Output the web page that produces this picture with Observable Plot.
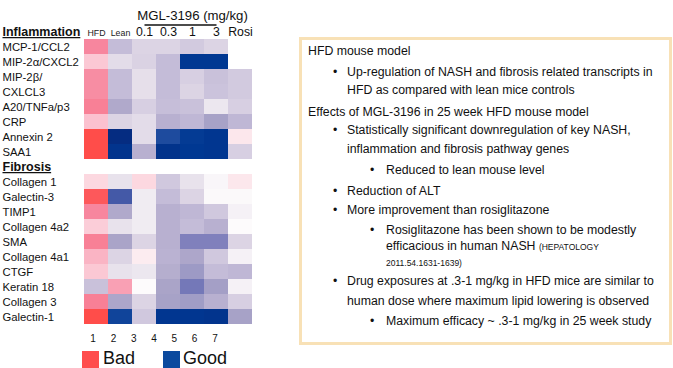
<!DOCTYPE html>
<html>
<head>
<meta charset="utf-8">
<script src="https://cdn.jsdelivr.net/npm/d3@7"></script>
<script src="https://cdn.jsdelivr.net/npm/@observablehq/plot@0.6"></script>
<style>
  html, body { margin: 0; padding: 0; background: #fff; }
  #page { position: relative; width: 673px; height: 368px; overflow: hidden; font-family: "Liberation Sans", Arial, sans-serif; color: #111; }
  #chart { position: absolute; left: 0; top: 0; }
  #nums { position: absolute; left: 83px; top: 333px; display: flex; font-size: 10px; }
  #nums span { width: 20.3px; text-align: center; }
  .leg { position: absolute; top: 351px; width: 17px; height: 17px; }
  .legt { position: absolute; top: 348px; font-size: 18px; line-height: 20px; }
  #box { position: absolute; left: 299px; top: 37px; width: 367px; height: 302px; border: 3px solid #f8e1b6; background: #fff; }
  .ln { position: absolute; font-size: 12.3px; line-height: 16px; white-space: nowrap; }
  .sm { font-size: 8.5px; }
</style>
</head>
<body>
<div id="page">
  <div id="chart"></div>
  <div id="nums"></div>
  <div class="leg" style="left:82px;background:#ff4d4d"></div>
  <div class="legt" style="left:103px">Bad</div>
  <div class="leg" style="left:163px;background:#0b4a9e"></div>
  <div class="legt" style="left:183px">Good</div>
  <div id="box">
    <div class="ln" style="top:3px;left:6px">HFD mouse model</div>
    <div class="ln" style="top:24px;left:31px">•</div>
    <div class="ln" style="top:24px;left:45px">Up-regulation of NASH and fibrosis related transcripts in</div>
    <div class="ln" style="top:42px;left:45px">HFD as compared with lean mice controls</div>
    <div class="ln" style="top:64px;left:6px">Effects of MGL-3196 in 25 week HFD mouse model</div>
    <div class="ln" style="top:82px;left:31px">•</div>
    <div class="ln" style="top:82px;left:45px">Statistically significant downregulation of key NASH,</div>
    <div class="ln" style="top:101px;left:45px">inflammation and fibrosis pathway genes</div>
    <div class="ln" style="top:122px;left:68px">•</div>
    <div class="ln" style="top:122px;left:84px">Reduced to lean mouse level</div>
    <div class="ln" style="top:143px;left:31px">•</div>
    <div class="ln" style="top:143px;left:45px">Reduction of ALT</div>
    <div class="ln" style="top:162px;left:31px">•</div>
    <div class="ln" style="top:162px;left:45px">More improvement than rosiglitazone</div>
    <div class="ln" style="top:182px;left:68px">•</div>
    <div class="ln" style="top:182px;left:84px">Rosiglitazone has been shown to be modestly</div>
    <div class="ln" style="top:198px;left:84px">efficacious in human NASH <span class="sm">(HEPATOLOGY</span></div>
    <div class="ln sm" style="top:215px;left:84px">2011.54.1631-1639)</div>
    <div class="ln" style="top:233px;left:31px">•</div>
    <div class="ln" style="top:233px;left:45px">Drug exposures at .3-1 mg/kg in HFD mice are similar to</div>
    <div class="ln" style="top:253px;left:45px">human dose where maximum lipid lowering is observed</div>
    <div class="ln" style="top:273px;left:68px">•</div>
    <div class="ln" style="top:273px;left:84px">Maximum efficacy ~ .3-1 mg/kg in 25 week study</div>
  </div>
</div>
<script>
// ---- data ----
const columns = ["HFD", "Lean", "0.1", "0.3", "1", "3", "Rosi"];
const doseColumns = ["0.1", "0.3", "1", "3", "Rosi"];
const groupColumns = ["HFD", "Lean"];
const columnNumbers = ["1", "2", "3", "4", "5", "6", "7"];
const doseTitle = "MGL-3196 (mg/kg)";

const inflammationGenes = ["MCP-1/CCL2", "MIP-2α/CXCL2", "MIP-2β/", "CXLCL3", "A20/TNFa/p3", "CRP", "Annexin 2", "SAA1"];
const inflammationValues = [
  [2.0, -2.0, -1.0, -1.0, -1.4, -1.0, null],
  [1.0, -0.7, -1.1, -2.0, -6.0, -6.0, null],
  [1.9, -2.0, -0.6, -2.0, -1.2, -1.8, -1.4],
  [1.9, -2.0, -0.6, -2.0, -1.0, -1.7, -1.4],
  [2.1, -2.8, -1.2, -1.9, -1.8, -0.4, -1.2],
  [1.1, -1.0, -0.7, -2.5, -2.2, -3.1, -2.2],
  [3.0, -6.7, -0.7, -5.4, -5.9, -6.1, 0.4],
  [3.0, -6.2, -2.5, -6.3, -6.0, -6.1, -1.2]
];

const fibrosisGenes = ["Collagen 1", "Galectin-3", "TIMP1", "Collagen 4a2", "SMA", "Collagen 4a1", "CTGF", "Keratin 18", "Collagen 3", "Galectin-1"];
const fibrosisValues = [
  [0.7, -0.5, 0.7, -1.5, -0.5, -0.1, 0.4],
  [2.8, -5.0, -0.3, -2.0, -1.0, -0.05, -0.05],
  [2.0, -2.8, -0.3, -2.5, -2.2, -1.5, -0.2],
  [0.9, -0.5, -0.3, -2.5, -2.0, -2.5, 0.0],
  [2.1, -3.0, -1.0, -2.5, -4.0, -4.0, -1.0],
  [1.3, -1.0, 0.3, -2.4, -2.9, -1.5, -0.2],
  [1.0, -0.5, -0.4, -2.6, -3.4, -2.0, -2.2],
  [-1.8, 1.6, 0.0, -3.0, -4.2, -3.2, -0.2],
  [2.1, -2.9, -1.0, -3.1, -3.3, -2.5, -1.2],
  [3.0, -5.6, -1.5, -6.1, -6.1, -6.2, -3.1]
];

const colorDomain = [-6.8, -6, -5.5, -5, -4, -3.5, -3, -2.5, -2, -1.5, -1, -0.5, 0, 0.5, 1, 2, 3];
const colorRange = ["#062a7e", "#003892", "#14479c", "#4459a7", "#8080bc", "#9a98c4", "#aaa4c8", "#b8b0d0", "#c4bcd8", "#d0c8de", "#dcd4e4", "#e8e2ec", "#fdfbfc", "#fce2e8", "#fbc8d4", "#f7869e", "#ff4d4a"];

// ---- build table ----
const rows = ["_mgl", "Inflammation", ...inflammationGenes, "Fibrosis", ...fibrosisGenes];
const cells = [];
inflammationGenes.forEach((g, i) => columns.forEach((c, j) => {
  const v = inflammationValues[i][j];
  if (v != null) cells.push({gene: g, col: c, value: v});
}));
fibrosisGenes.forEach((g, i) => columns.forEach((c, j) => {
  const v = fibrosisValues[i][j];
  if (v != null) cells.push({gene: g, col: c, value: v});
}));
const geneLabels = [...inflammationGenes, ...fibrosisGenes];
const headings = ["Inflammation", "Fibrosis"];

const chart = Plot.plot({
  width: 262,
  height: 333,
  marginLeft: 82,
  marginRight: 9,
  marginTop: 4,
  marginBottom: 4,
  style: {fontFamily: "Liberation Sans, Arial, sans-serif", background: "transparent", color: "#111", overflow: "visible"},
  x: {type: "band", domain: columns, padding: 0, axis: null},
  y: {type: "band", domain: rows, padding: 0, axis: null},
  color: {type: "linear", domain: colorDomain, range: colorRange},
  marks: [
    Plot.cell(cells, {x: "col", y: "gene", fill: "value", inset: 0, shapeRendering: "crispEdges"}),
    Plot.text(geneLabels, {y: d => d, text: d => d, frameAnchor: "left", textAnchor: "start", dx: -80, fontSize: 11.3, fill: "#111"}),
    Plot.text(headings, {y: d => d, text: d => d, frameAnchor: "left", textAnchor: "start", dx: -80, fontSize: 12.5, fontWeight: "bold", fill: "#111"}),
    Plot.text(groupColumns, {x: d => d, y: () => "Inflammation", text: d => d, fontSize: 8.8, fill: "#222", dy: 1}),
    Plot.text(doseColumns, {x: d => d, y: () => "Inflammation", text: d => d, fontSize: 12.3, fill: "#111"}),
    Plot.text([doseTitle], {x: () => "1", y: () => "_mgl", text: d => d, fontSize: 13.2, fill: "#111", dy: -1}),
    Plot.link([doseTitle], {x1: () => "0.1", x2: () => "3", y1: () => "_mgl", y2: () => "_mgl", dy: 8, stroke: "#111", strokeWidth: 1.5})
  ]
});
document.getElementById("chart").appendChild(chart);
d3.select(chart).selectAll("text").filter(function() { return headings.includes(this.textContent); })
  .style("text-decoration", "underline");

const nums = document.getElementById("nums");
columnNumbers.forEach(n => { const s = document.createElement("span"); s.textContent = n; nums.appendChild(s); });
</script>
</body>
</html>
